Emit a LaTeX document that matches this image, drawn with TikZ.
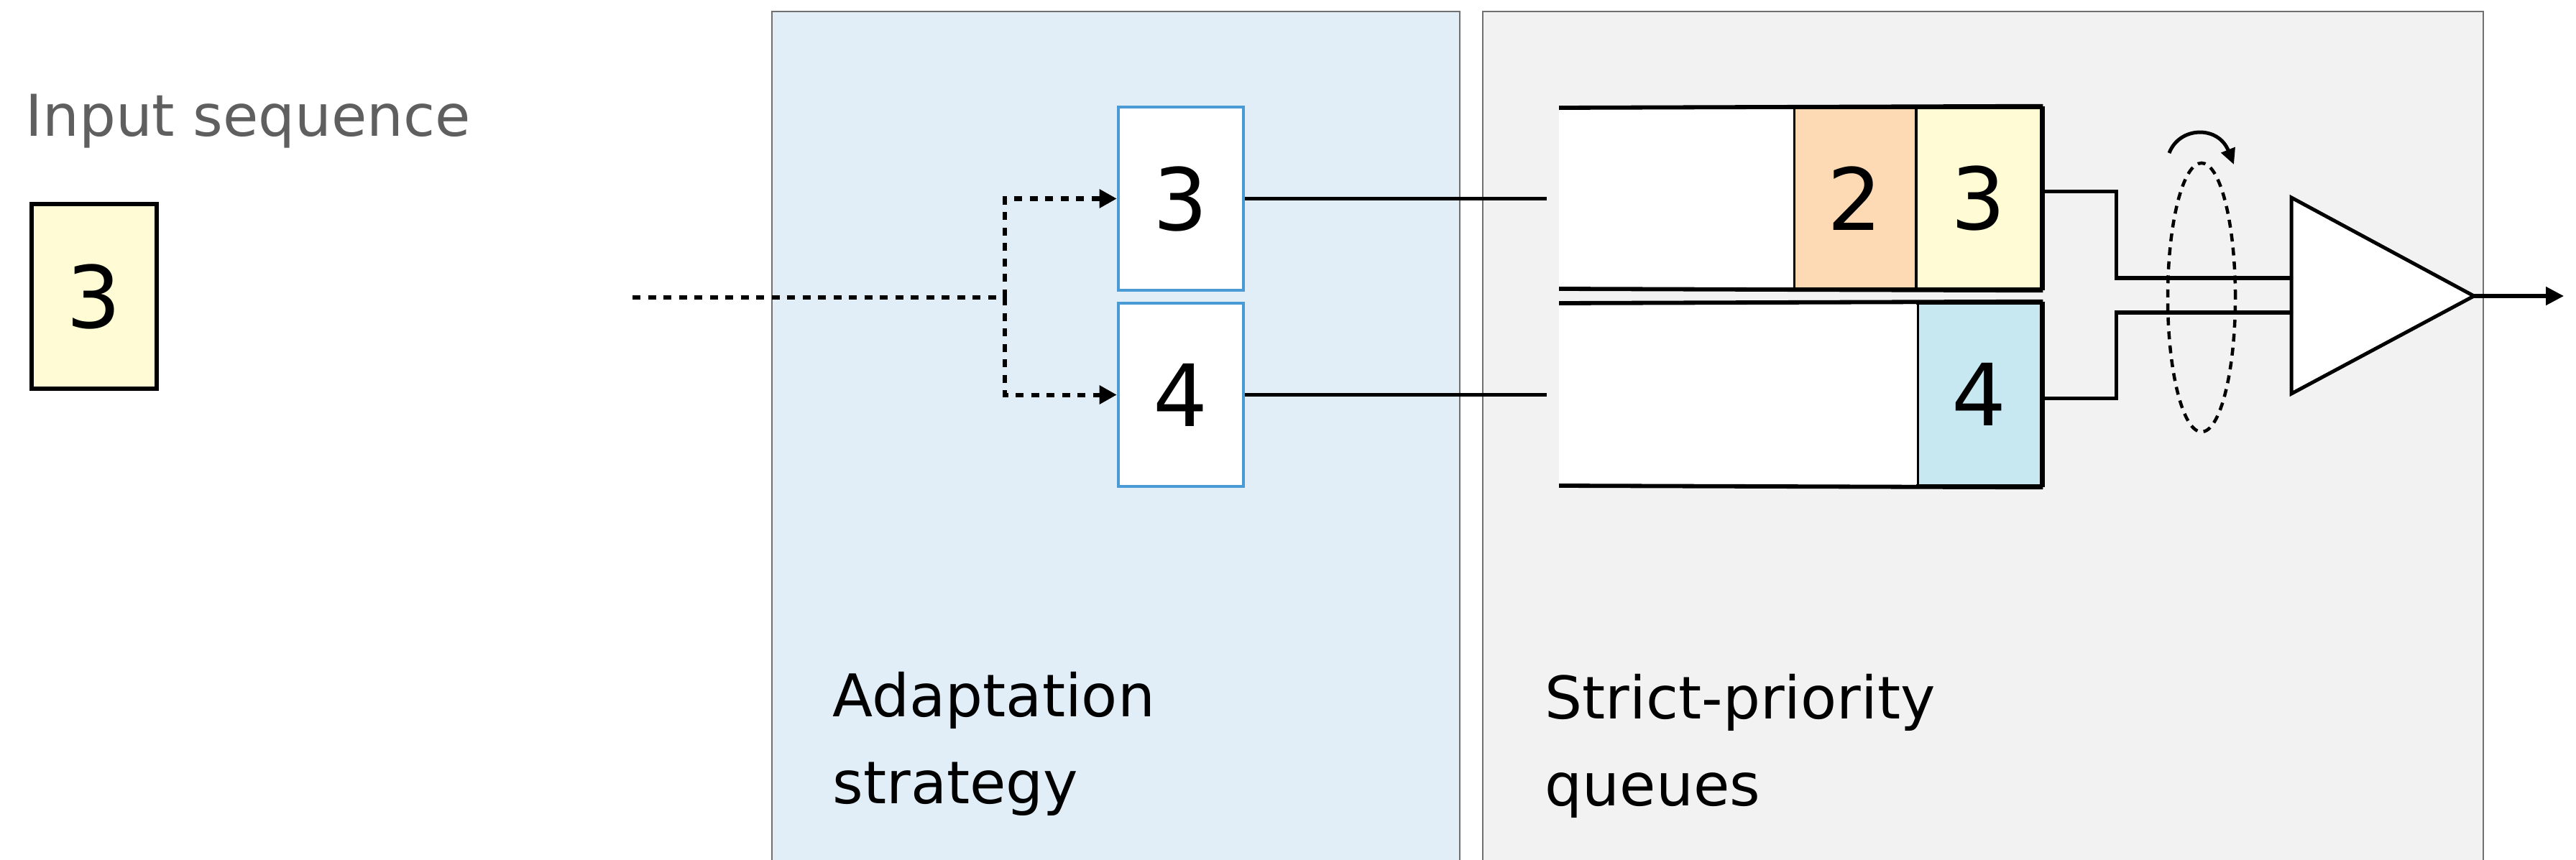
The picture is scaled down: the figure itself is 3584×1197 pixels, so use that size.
\documentclass[tikz,border=0pt]{standalone}
\usepackage{fontspec}
\setmainfont{DejaVu Sans}
\usetikzlibrary{arrows.meta}
\definecolor{inyellow}{HTML}{FFFBD4}
\definecolor{qorange}{HTML}{FDDAB3}
\definecolor{qblue}{HTML}{C7E7F1}
\definecolor{panelblue}{HTML}{E1EEF8}
\definecolor{panelgray}{HTML}{F2F2F2}
\definecolor{panelline}{HTML}{707070}
\definecolor{boxblue}{HTML}{4A9AD5}
\definecolor{labelgray}{HTML}{5F5F5F}
\begin{document}
\begin{tikzpicture}[x=0.01cm,y=-0.01cm,
  digit/.style={font=\fontsize{34}{40}\selectfont, text=black},
  lbl/.style={font=\fontsize{23.3}{30}\selectfont, anchor=base west, inner sep=0, text=black},
  inbox/.style={draw=black, line width=0.056cm, fill=inyellow, minimum width=1.74cm, minimum height=2.57cm, inner sep=0, digit},
  abox/.style={draw=boxblue, line width=0.045cm, fill=white, minimum width=1.74cm, minimum height=2.55cm, inner sep=0, digit},
  qbox/.style={draw=black, line width=0.045cm, minimum height=2.52cm, inner sep=0, digit},
  rail/.style={line width=0.058cm},
  conn/.style={line width=0.05cm},
  dashedline/.style={line width=0.06cm, dash pattern=on 0.11cm off 0.105cm},
  tip/.style={-{Triangle[length=0.24cm,width=0.25cm]}},
  panel/.style={draw=panelline, line width=0.027cm}
]
\clip (0,0) rectangle (3584,1197);
\fill[white] (0,0) rectangle (3584,1197);

% panels
\draw[panel, fill=panelblue] (1074,16) rectangle (2031,1260);
\draw[panel, fill=panelgray] (2063,16) rectangle (3455,1260);

% input
\node[lbl, font=\fontsize{22.8}{28}\selectfont, text=labelgray] (inlabel) at (35,190) {Input sequence};
\node[inbox] (in3) at (131,412.5) {3};

% adaptation boxes
\node[abox] (a3) at (1643,276.5) {3};
\node[abox] (a4) at (1643,549.5) {4};

% dashed input connector
\coordinate (src) at (880,414);
\coordinate (split) at (1398,414);
\draw[dashedline] (src) -- (split);
\draw[dashedline, tip] (split) |- (a3.west);
\draw[dashedline, tip] (split) |- (a4.west);

% queues
\node[qbox, fill=qorange, minimum width=1.70cm] (q2) at (2581,276) {2};
\node[qbox, fill=inyellow, minimum width=1.74cm] (q3) at (2753,276) {3};
\node[qbox, fill=qblue, minimum width=1.72cm, minimum height=2.54cm] (q4) at (2754,549) {4};
\fill[white] (2169,152) rectangle (2495,400);
\fill[white] (2169,424) rectangle (2667,674);
\coordinate (qt1) at (2169,150);
\coordinate (qb1) at (2169,402);
\coordinate (qt2) at (2169,422);
\coordinate (qb2) at (2169,676);
\draw[rail] (qt1) -- (q3.north east);
\draw[rail] (qb1) -- (q3.south east);
\draw[rail] (qt2) -- (q4.north east);
\draw[rail] (qb2) -- (q4.south east);
\draw[line width=0.06cm] (q3.north east) -- (q3.south east);
\draw[line width=0.06cm] (q4.north east) -- (q4.south east);

% adaptation -> queues
\coordinate (qin3) at (2152,276.5);
\coordinate (qin4) at (2152,549.5);
\draw[conn] (a3.east) -- (qin3);
\draw[conn] (a4.east) -- (qin4);

% scheduler triangle
\coordinate (trit) at (3188,275);
\coordinate (trib) at (3188,548);
\coordinate (apex) at (3442,412);
\coordinate (t1) at (3188,387);
\coordinate (t2) at (3188,435);
\coordinate (outend) at (3567,412);
\draw[conn] ([yshift=0.09cm]q3.east) -- ++(102,0) |- (t1);
\draw[conn] ([yshift=-0.05cm]q4.east) -- ++(102,0) |- (t2);
\draw[conn, fill=white, line join=miter] (trit) -- (apex) -- (trib) -- cycle;
\draw[conn, -{Triangle[length=0.25cm,width=0.25cm]}] (apex) -- (outend);

% round-robin ellipse and rotation arrow
\draw[line width=0.045cm, dash pattern=on 0.11cm off 0.085cm] (3063,414) ellipse [x radius=0.47cm, y radius=1.87cm];
\coordinate (rotS) at (3018,213);
\coordinate (rotE) at (3108,229);
\draw[conn, -{Triangle[length=0.22cm,width=0.2cm]}] (rotS) .. controls (3032,176) and (3086,174) .. (rotE);

% labels
\node[lbl] (lblA1) at (1158,997) {Adaptation};
\node[lbl] (lblA2) at (1158,1118) {strategy};
\node[lbl] (lblS1) at (2149,1000) {Strict-priority};
\node[lbl] (lblS2) at (2149,1121) {queues};
\end{tikzpicture}
\end{document}
